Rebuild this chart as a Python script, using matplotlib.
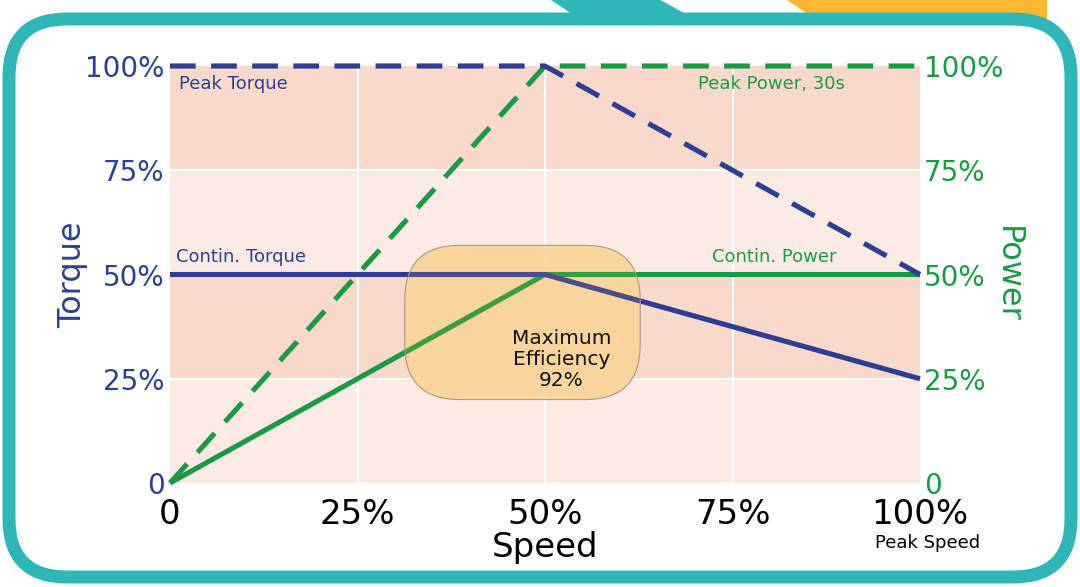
import matplotlib
matplotlib.use("Agg")
import matplotlib.pyplot as plt
from matplotlib.patches import FancyBboxPatch, Polygon
from matplotlib.transforms import IdentityTransform
from matplotlib.colors import to_rgba

# Speed axis (% of peak speed) and the four operating envelopes
speed = [0, 50, 100]
peak_torque = [100, 100, 50]
peak_power = [0, 100, 100]
contin_torque = [50, 50, 25]
contin_power = [0, 50, 50]

tick_vals = [0, 25, 50, 75, 100]
y_tick_labels = ["0", "25%", "50%", "75%", "100%"]
x_tick_labels = ["0", "25%", "50%", "75%", "100%"]

# Shaded bands behind the curves: (low, high, colour)
bands = [(75, 100, "#f9d9cb"), (50, 75, "#fcebe4"), (25, 50, "#f9d9cb"), (0, 25, "#fcebe4")]

BLUE = "#2c3f95"
GREEN = "#1a9a45"
TEAL = "#2fb6b8"
GOLD = "#fbb82e"

plt.rcParams["font.family"] = ["DejaVu Sans"]

W, H = 1080, 587
fig = plt.figure(figsize=(W / 100, H / 100), dpi=100)
fig.patch.set_facecolor("white")

# decorative header shapes (pixel coordinates, origin bottom-left)
def px(x, y):
    return (x, H - y)

fig.patches.append(Polygon([px(548, -2), px(657, -2), px(700, 22), px(584, 22)],
                           closed=True, facecolor=TEAL, edgecolor="none",
                           transform=IdentityTransform(), zorder=0))
fig.patches.append(Polygon([px(784, -2), px(1047, -2), px(1047, 22), px(820, 22)],
                           closed=True, facecolor=GOLD, edgecolor="none",
                           transform=IdentityTransform(), zorder=0))
# rounded frame
frame = FancyBboxPatch((9, H - 577), 1062, 558,
                       boxstyle="round,pad=0,rounding_size=58",
                       facecolor="white", edgecolor=TEAL, linewidth=13 * 0.72,
                       transform=IdentityTransform(), zorder=1)
fig.patches.append(frame)

left, right = 170 / W, 920 / W
bottom, top = 1 - 483 / H, 1 - 66 / H
ax = fig.add_axes([left, bottom, right - left, top - bottom])
ax.set_zorder(3)
ax.patch.set_alpha(0)
ax.set_xlim(0, 100)
ax.set_ylim(0, 100)
for s in ax.spines.values():
    s.set_visible(False)

for lo, hi, c in bands:
    ax.axhspan(lo, hi, color=c, lw=0, zorder=0)
for v in tick_vals[1:-1]:
    ax.axvline(v, color="white", lw=1.5, zorder=1)
    ax.axhline(v, color="white", lw=1.5, zorder=1)

lw = 3.7
dash = (5, 3)
ax.plot(speed, peak_power, color=GREEN, lw=lw, dashes=dash, clip_on=False, zorder=3,
        dash_capstyle="butt")
ax.plot(speed, peak_torque, color=BLUE, lw=lw, dashes=dash, clip_on=False, zorder=4,
        dash_capstyle="butt")
ax.plot(speed, contin_power, color=GREEN, lw=lw, clip_on=False, zorder=3,
        solid_capstyle="butt", solid_joinstyle="miter")
ax.plot(speed, contin_torque, color=BLUE, lw=lw, clip_on=False, zorder=4,
        solid_capstyle="butt", solid_joinstyle="miter")

ax.set_xticks(tick_vals)
ax.set_xticklabels(x_tick_labels, fontsize=24.5, color="black")
ax.set_yticks(tick_vals)
ax.set_yticklabels(y_tick_labels, fontsize=20, color=BLUE)
ax.tick_params(axis="both", length=0)
ax.tick_params(axis="x", pad=11)
ax.tick_params(axis="y", pad=4)

ax2 = ax.twinx()
ax2.set_ylim(0, 100)
for s in ax2.spines.values():
    s.set_visible(False)
ax2.set_yticks(tick_vals)
ax2.set_yticklabels(y_tick_labels, fontsize=20, color=GREEN)
ax2.tick_params(axis="y", length=0, pad=3)

ax.set_xlabel("Speed", fontsize=24.5, color="black", labelpad=0)
ax.set_ylabel("Torque", fontsize=23, color=BLUE, labelpad=-2)
ax2.set_ylabel("Power", fontsize=23, color=GREEN, rotation=270, labelpad=14)

ax.text(101, -14.5, "Peak Speed", fontsize=13, color="black", ha="center", va="center",
        clip_on=False)

ax.text(1.2, 95.6, "Peak Torque", fontsize=13, color=BLUE, ha="left", va="center")
ax.text(0.8, 54.3, "Contin. Torque", fontsize=13, color=BLUE, ha="left", va="center")
ax.text(90, 95.6, "Peak Power, 30s", fontsize=13, color=GREEN, ha="right", va="center")
ax.text(88.9, 54.3, "Contin. Power", fontsize=13, color=GREEN, ha="right", va="center")

# maximum-efficiency region, drawn in pixel space so the rounding stays circular:
# a pale fill under the curves and a faint tint (with outline) over them
fig.canvas.draw()
x0, y0 = ax.transData.transform((31.3, 20.0))
x1, y1 = ax.transData.transform((62.7, 57.0))
for fc, ec, z in [(to_rgba("#fbdcaa", 0.9), "none", 2),
                  (to_rgba("#f5b040", 0.15), "#a89a84", 5)]:
    ax.add_artist(FancyBboxPatch((x0, y0), x1 - x0, y1 - y0,
                                 boxstyle="round,pad=0,rounding_size=55",
                                 facecolor=fc, edgecolor=ec,
                                 linewidth=0.8, transform=IdentityTransform(), zorder=z))
ax.text(52.2, 29.6, "Maximum\nEfficiency\n92%", fontsize=14.5, color="#111111",
        ha="center", va="center", linespacing=1.12, zorder=7)

fig.savefig("out.png", dpi=100, facecolor="white")
